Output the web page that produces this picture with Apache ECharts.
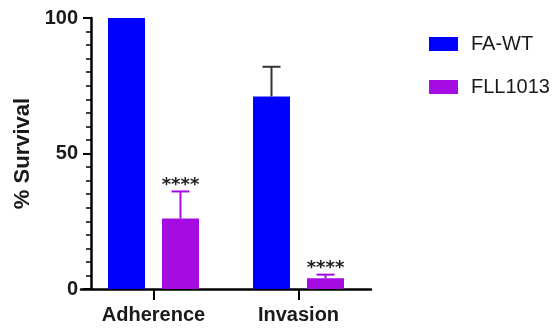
<!DOCTYPE html>
<html>
<head>
<meta charset="utf-8">
<script src="https://cdn.jsdelivr.net/npm/echarts@6/dist/echarts.min.js"></script>
<style>html,body{margin:0;padding:0;background:#fff;}#c{width:556px;height:328px;}</style>
</head>
<body>
<div id="c"></div>
<script>
var categories = ['Adherence', 'Invasion'];
var seriesNames = ['FA-WT', 'FLL1013'];
var faWt = [100, 71];
var faWtErr = [0, 11];
var fll1013 = [26, 4];
var fll1013Err = [10, 1.3];
var fll1013Sig = ['****', '****'];
var yTicks = [0, 50, 100];

var BLUE = '#0000FF', PURPLE = '#A40CE2';
var BAR_W = 37, BAR_GAP = 17;
var FONT = '"Liberation Sans", Arial, sans-serif';

function errSeries(name, vals, errs, sig, idx, color) {
  return {
    type: 'custom',
    name: name + ' err',
    z: 5,
    data: categories.map(function (c, i) { return [i, vals[i], errs[i]]; }),
    renderItem: function (params, api) {
      var ci = api.value(0), v = api.value(1), e = api.value(2), s = sig ? sig[ci] : '';
      var base = api.coord([ci, v]);
      var off = (idx === 0 ? -1 : 1) * (BAR_W + BAR_GAP) / 2;
      var x = base[0] + off;
      var children = [];
      var topY = base[1];
      if (e > 0) {
        topY = api.coord([ci, v + e])[1];
        children.push({ type: 'line', shape: { x1: x, y1: base[1], x2: x, y2: topY }, style: { stroke: color, lineWidth: 2 } });
        children.push({ type: 'line', shape: { x1: x - 9, y1: topY, x2: x + 9, y2: topY }, style: { stroke: color, lineWidth: 2 } });
      }
      if (s) {
        children.push({ type: 'text', style: { text: s, x: x, y: topY - 6, textAlign: 'center', textVerticalAlign: 'middle', fill: '#222', font: 'bold 18px "DejaVu Sans"' } });
      }
      return { type: 'group', children: children };
    }
  };
}

var chart = echarts.init(document.getElementById('c'));
chart.setOption({
  animation: false,
  backgroundColor: '#fff',
  grid: { left: 81, right: 185, top: 18, bottom: 39, containLabel: false },
  legend: {
    orient: 'vertical', left: 424, top: 29, itemWidth: 29, itemHeight: 14, itemGap: 23,
    icon: 'rect', data: seriesNames,
    textStyle: { fontSize: 20, color: '#1a1a1a', fontFamily: FONT, padding: [0, 0, 0, 8] }
  },
  xAxis: {
    type: 'category', data: categories,
    axisLine: { lineStyle: { color: '#000', width: 2.5 } },
    axisTick: { show: true, alignWithLabel: true, length: 11, lineStyle: { color: '#000', width: 2 } },
    axisLabel: { fontSize: 20, fontWeight: 'bold', color: '#1a1a1a', fontFamily: FONT, margin: 16 }
  },
  yAxis: {
    type: 'value', min: 0, max: 100, interval: 50, offset: -10,
    name: '% Survival', nameLocation: 'middle', nameGap: 56,
    nameTextStyle: { fontSize: 22, fontWeight: 'bold', color: '#1a1a1a', fontFamily: FONT },
    axisLine: { show: true, lineStyle: { color: '#000', width: 2.5 } },
    axisTick: { show: true, length: 8, lineStyle: { color: '#000', width: 2 } },
    minorTick: { show: true, splitNumber: 10, length: 5, lineStyle: { color: '#000', width: 1.5 } },
    splitLine: { show: false },
    axisLabel: { fontSize: 20, fontWeight: 'bold', color: '#1a1a1a', fontFamily: FONT, margin: 13,
      formatter: function (v) { return yTicks.indexOf(v) >= 0 ? String(v) : ''; } }
  },
  series: [
    { type: 'bar', name: seriesNames[0], data: faWt, barWidth: BAR_W, barGap: (BAR_GAP / BAR_W * 100) + '%', itemStyle: { color: BLUE } },
    { type: 'bar', name: seriesNames[1], data: fll1013, barWidth: BAR_W, itemStyle: { color: PURPLE } },
    errSeries(seriesNames[0], faWt, faWtErr, null, 0, '#333'),
    errSeries(seriesNames[1], fll1013, fll1013Err, fll1013Sig, 1, PURPLE)
  ]
});
</script>
</body>
</html>
